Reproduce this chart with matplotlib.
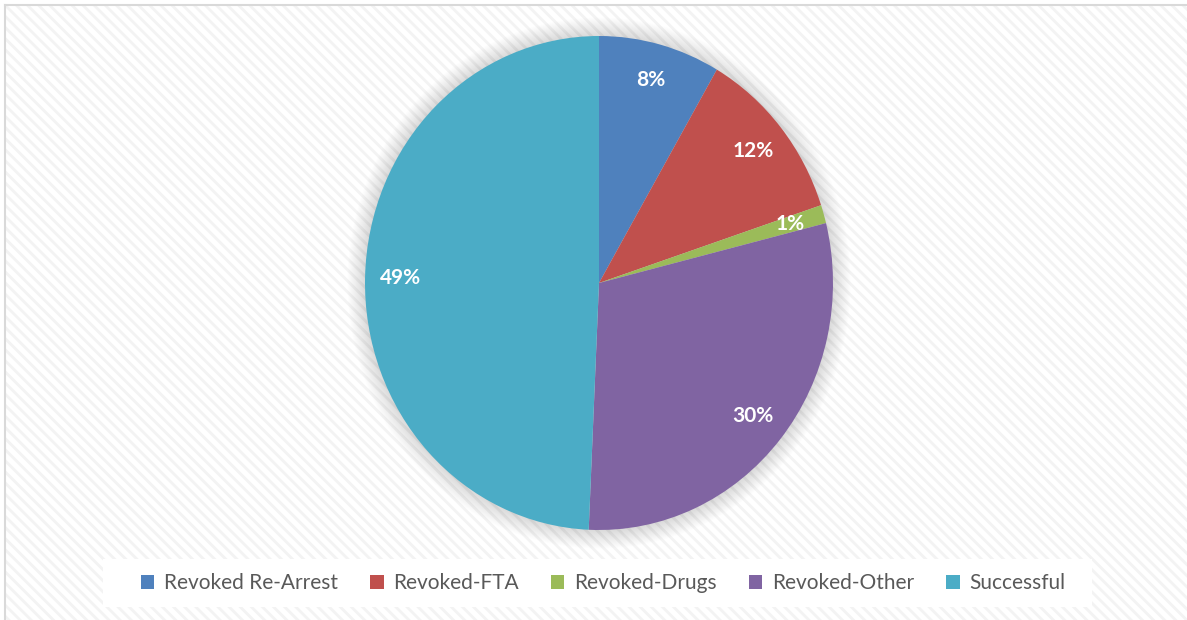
import matplotlib
matplotlib.use("Agg")
import matplotlib.pyplot as plt
from matplotlib.patches import Rectangle, Ellipse, Patch
import numpy as np

categories = ["Revoked Re-Arrest", "Revoked-FTA", "Revoked-Drugs", "Revoked-Other", "Successful"]
values = [8.4, 11.5, 1.2, 29.6, 49.3]
colors = ["#4F81BD", "#C0504D", "#9BBB59", "#8064A2", "#4BACC6"]

plt.rcParams['font.family'] = ['Lato', 'DejaVu Sans']
plt.rcParams['hatch.color'] = '#F3F3F3'
plt.rcParams['hatch.linewidth'] = 2.0

W, H = 1187, 620
fig = plt.figure(figsize=(W / 100, H / 100), dpi=100)
fig.patch.set_facecolor('white')

# hatched chart-area background
bg = Rectangle((5 / W, 0), 1 - 5 / W, 1 - 5 / H, transform=fig.transFigure,
               facecolor='white', edgecolor='#F3F3F3', linewidth=0,
               hatch='\\\\\\', zorder=0)
fig.add_artist(bg)
# border (top and left)
fig.add_artist(plt.Line2D([5 / W, 1], [1 - 5 / H, 1 - 5 / H], transform=fig.transFigure,
                          color='#D9D9D9', lw=1.5, zorder=1))
fig.add_artist(plt.Line2D([5 / W, 5 / W], [0, 1 - 5 / H], transform=fig.transFigure,
                          color='#D9D9D9', lw=1.5, zorder=1))

cx, cy, rx, ry = 599, 283, 234, 247
ax = fig.add_axes([(cx - rx) / W, (H - cy - ry) / H, 2 * rx / W, 2 * ry / H])
ax.patch.set_alpha(0)

# soft shadow
n = 18
for i in range(n):
    r = 1.0 + 0.075 * (n - i) / n
    ax.add_patch(Ellipse((0, 0), 2 * r, 2 * r, facecolor='black', alpha=0.009,
                         edgecolor='none', clip_on=False, zorder=1))

wedges, texts, autotexts = ax.pie(
    values, colors=colors, startangle=90, counterclock=False, radius=1.0,
    autopct=lambda p: f"{p:.0f}%", pctdistance=0.85,
    wedgeprops=dict(linewidth=0, zorder=2),
    textprops=dict(color='white', fontsize=15, fontweight='bold'))
for t in autotexts:
    t.set_zorder(5)
ax.set_aspect('auto')
ax.set_xlim(-1, 1)
ax.set_ylim(-1, 1)
ax.axis('off')

# legend box
fig.add_artist(Rectangle((103 / W, (H - 607) / H), (1092 - 103) / W, 48 / H,
                         transform=fig.transFigure, facecolor='white',
                         edgecolor='none', zorder=3))
handles = [Patch(facecolor=c, edgecolor='none') for c in colors]
leg = fig.legend(handles, categories, ncol=5, loc='center',
                 bbox_to_anchor=(603 / W, (H - 583) / H),
                 frameon=False, fontsize=15, handlelength=0.65, handleheight=0.65,
                 handletextpad=0.45, columnspacing=1.55, labelcolor='#595959')
leg.set_zorder(4)

fig.savefig('out.png', dpi=100)
